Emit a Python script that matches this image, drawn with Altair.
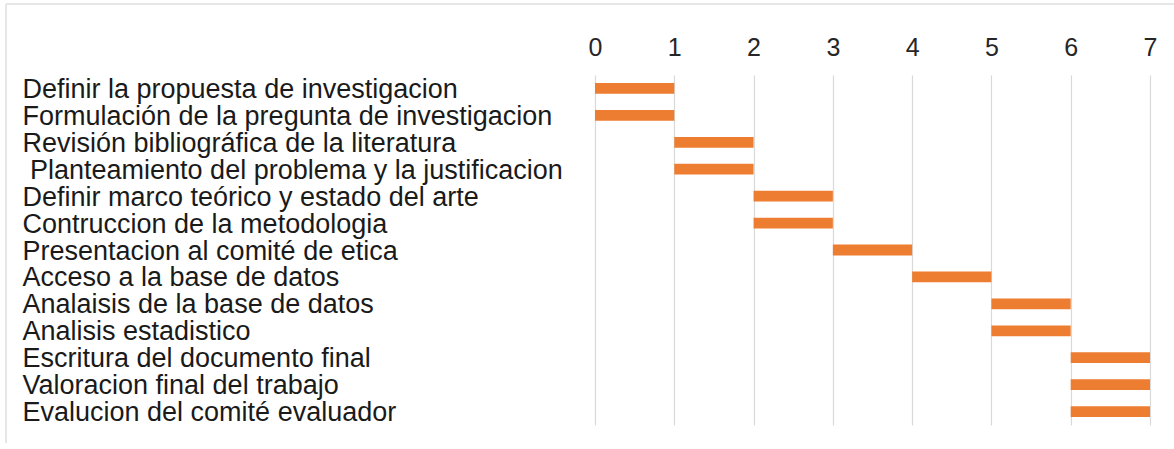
import altair as alt
import pandas as pd

tasks = [
    "Definir la propuesta de investigacion",
    "Formulación de la pregunta de investigacion",
    "Revisión bibliográfica de la literatura",
    "\u200b\u00a0Planteamiento del problema y la justificacion",
    "Definir marco teórico y estado del arte",
    "Contruccion de la metodologia",
    "Presentacion al comité de etica",
    "Acceso a la base de datos",
    "Analaisis de la base de datos",
    "Analisis estadistico",
    "Escritura del documento final",
    "Valoracion final del trabajo",
    "Evalucion del comité evaluador",
]
starts = [0, 0, 1, 1, 2, 2, 3, 4, 5, 5, 6, 6, 6]
ends = [1, 1, 2, 2, 3, 3, 4, 5, 6, 6, 7, 7, 7]
x_ticks = [0, 1, 2, 3, 4, 5, 6, 7]

df = pd.DataFrame({"task": tasks, "start": starts, "end": ends})

FONT = "Liberation Sans"
PLOT_W, PLOT_H = 555, 350
PAD_L, PAD_T = 595, 75

bars = alt.Chart(df).mark_bar(color="#ED7D31", cornerRadius=0).encode(
    y=alt.Y(
        "task:N",
        sort=None,
        title=None,
        scale=alt.Scale(paddingInner=0.6, paddingOuter=0.3),
        axis=alt.Axis(
            orient="left",
            labelAlign="left",
            labelPadding=PAD_L - 22,
            labelFont=FONT,
            labelFontSize=27,
            labelColor="#1a1a1a",
            labelLimit=0,
            labelOffset=1.5,
            ticks=False,
            tickSize=0,
            domain=False,
            grid=False,
        ),
    ),
    x=alt.X(
        "start:Q",
        title=None,
        scale=alt.Scale(domain=[0, 7], nice=False),
        axis=alt.Axis(
            orient="top",
            values=x_ticks,
            format="d",
            labelFont=FONT,
            labelFontSize=25,
            labelColor="#262626",
            labelPadding=15,
            labelFlush=False,
            ticks=False,
            tickSize=0,
            domain=False,
            grid=True,
            gridColor="#d9d9d9",
            gridWidth=1.2,
        ),
    ),
    x2="end:Q",
)

border_top = alt.Chart(df).mark_rule(color="#e6e6e6", strokeWidth=1.5).encode(
    x=alt.value(6 - PAD_L), x2=alt.value(1174 - PAD_L), y=alt.value(4 - PAD_T)
)
border_left = alt.Chart(df).mark_rule(color="#e6e6e6", strokeWidth=1.5).encode(
    x=alt.value(6 - PAD_L), y=alt.value(4 - PAD_T), y2=alt.value(443 - PAD_T)
)

chart = (
    alt.layer(bars, border_top, border_left)
    .properties(
        width=PLOT_W,
        height=PLOT_H,
        autosize=alt.AutoSizeParams(type="none"),
        padding={"left": PAD_L, "top": PAD_T, "right": 1174 - PAD_L - PLOT_W, "bottom": 449 - PAD_T - PLOT_H},
        background="white",
    )
    .configure_view(stroke=None)
)

chart.save("out.html", embed_options={"renderer": "svg", "actions": False})
